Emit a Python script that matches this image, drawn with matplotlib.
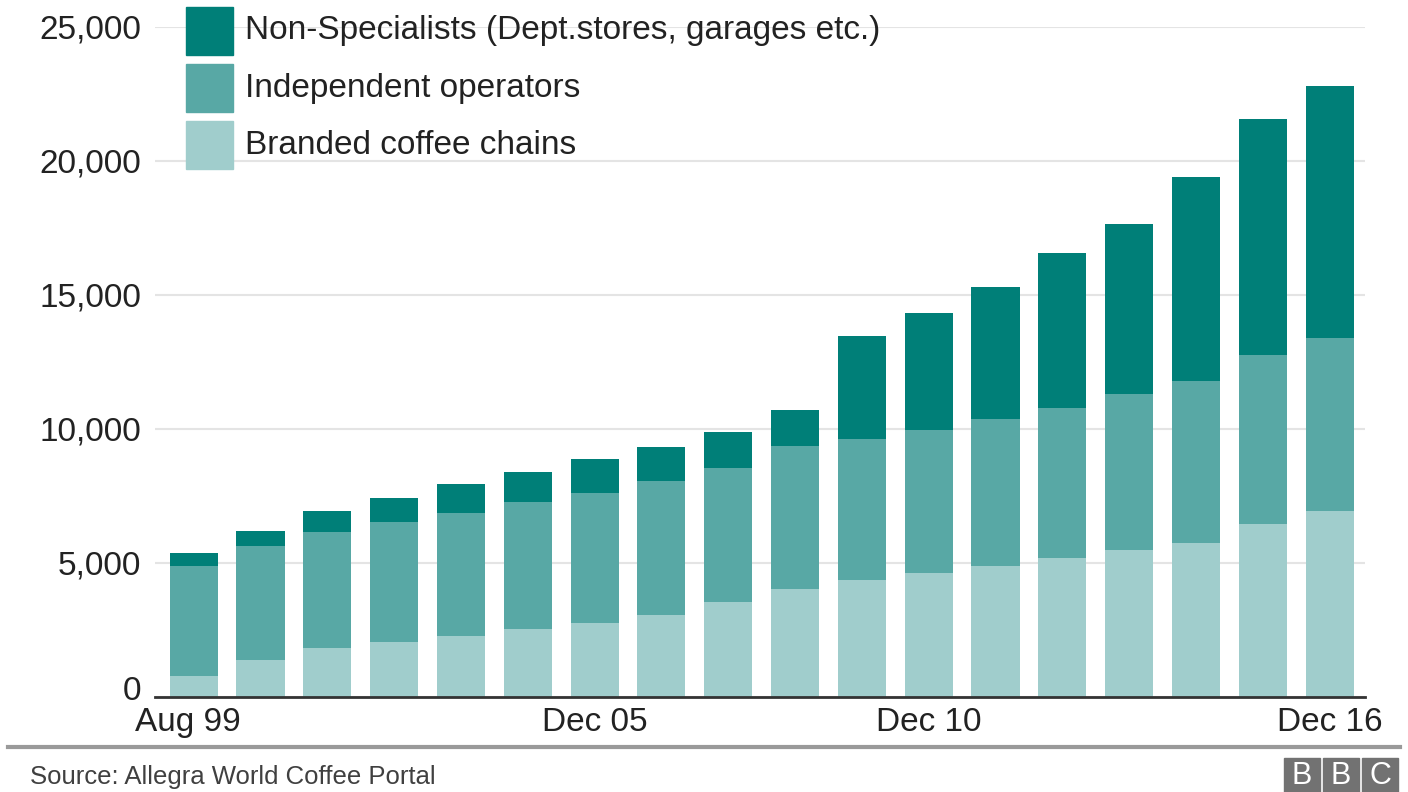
import numpy as np
import matplotlib
matplotlib.use("Agg")
import matplotlib.pyplot as plt
from matplotlib.patches import Rectangle
from matplotlib.transforms import offset_copy

plt.rcParams['font.family'] = ['Liberation Sans', 'DejaVu Sans']

# data (number of outlets)
periods = ["Aug 99", "Dec 00", "Dec 01", "Dec 02", "Dec 03", "Dec 04", "Dec 05",
           "Dec 06", "Dec 07", "Dec 08", "Dec 09", "Dec 10", "Dec 11", "Dec 12",
           "Dec 13", "Dec 14", "Dec 15", "Dec 16"]
branded = [780, 1380, 1820, 2060, 2290, 2550, 2770, 3060, 3530, 4040, 4370, 4640,
           4900, 5190, 5470, 5740, 6450, 6920]
independent = [4120, 4270, 4350, 4450, 4570, 4740, 4850, 4980, 5020, 5310, 5240,
               5310, 5470, 5610, 5850, 6050, 6320, 6490]
non_specialists = [490, 550, 770, 930, 1090, 1120, 1260, 1270, 1320, 1340, 3840,
                   4390, 4920, 5770, 6340, 7620, 8800, 9390]
shown_ticks = ["Aug 99", "Dec 05", "Dec 10", "Dec 16"]
yticks = [0, 5000, 10000, 15000, 20000, 25000]

names = ["Non-Specialists (Dept.stores, garages etc.)", "Independent operators",
         "Branded coffee chains"]
colors = ["#007f78", "#58a8a5", "#a0cdcc"]

fig = plt.figure(figsize=(14.08, 7.92), dpi=100)
ax = fig.add_axes([0.110, 0.120, 0.8595, 0.846])

x = np.arange(len(periods))
w = 0.72
ax.bar(x, branded, w, color=colors[2], zorder=3)
ax.bar(x, independent, w, bottom=branded, color=colors[1], zorder=3)
bottom2 = np.array(branded) + np.array(independent)
ax.bar(x, non_specialists, w, bottom=bottom2, color=colors[0], zorder=3)

ax.set_xlim(-0.58, len(periods) - 0.47)
ax.set_ylim(0, 25000)
ax.set_yticks(yticks)
ax.set_yticklabels([f"{v:,}" for v in yticks])
ax.grid(axis="y", color="#e4e4e4", linewidth=1.5, zorder=0)
tick_pos = [periods.index(p) for p in shown_ticks]
ax.set_xticks(tick_pos)
ax.set_xticklabels(shown_ticks)
ax.tick_params(axis="both", length=0, labelsize=24, colors="#222222")
ax.tick_params(axis="y", pad=10)
ax.tick_params(axis="x", pad=7)
# the zero label sits a little above the baseline
zero_lbl = ax.get_yticklabels()[0]
zero_lbl.set_transform(offset_copy(zero_lbl.get_transform(), fig=fig, y=9, units="dots"))
# first label nudged slightly left like the original
first_lbl = ax.get_xticklabels()[0]
first_lbl.set_transform(offset_copy(first_lbl.get_transform(), fig=fig, x=-6, units="dots"))
for s in ["top", "right", "left"]:
    ax.spines[s].set_visible(False)
ax.spines["bottom"].set_color("#333333")
ax.spines["bottom"].set_linewidth(2)
ax.spines["bottom"].set_zorder(4)

# legend, stacked squares top-left
W, H = 1408, 792
for i, (n, c) in enumerate(zip(names, colors)):
    top = 7 + i * 57
    fig.add_artist(Rectangle((186 / W, 1 - (top + 48) / H), 47 / W, 48 / H,
                             transform=fig.transFigure, color=c))
    fig.text(245 / W, 1 - (top + 24) / H, n, fontsize=24, color="#222222",
             va="center", ha="left")

# footer
fig.add_artist(plt.Line2D([8 / W, 1400 / W], [1 - 747 / H] * 2, transform=fig.transFigure,
                          color="#9a9a9a", linewidth=3))
fig.text(30 / W, 1 - 777 / H, "Source: Allegra World Coffee Portal", fontsize=18.5,
         color="#404040", va="center", ha="left")
for i, letter in enumerate("BBC"):
    x0 = 1284 + i * 39
    fig.add_artist(Rectangle((x0 / W, 0), 36 / W, 34 / H, transform=fig.transFigure,
                             color="#727272"))
    fig.text((x0 + 18) / W, 16 / H, letter, fontsize=22,
             color="white", ha="center", va="center")

fig.savefig("out.png", dpi=100)
